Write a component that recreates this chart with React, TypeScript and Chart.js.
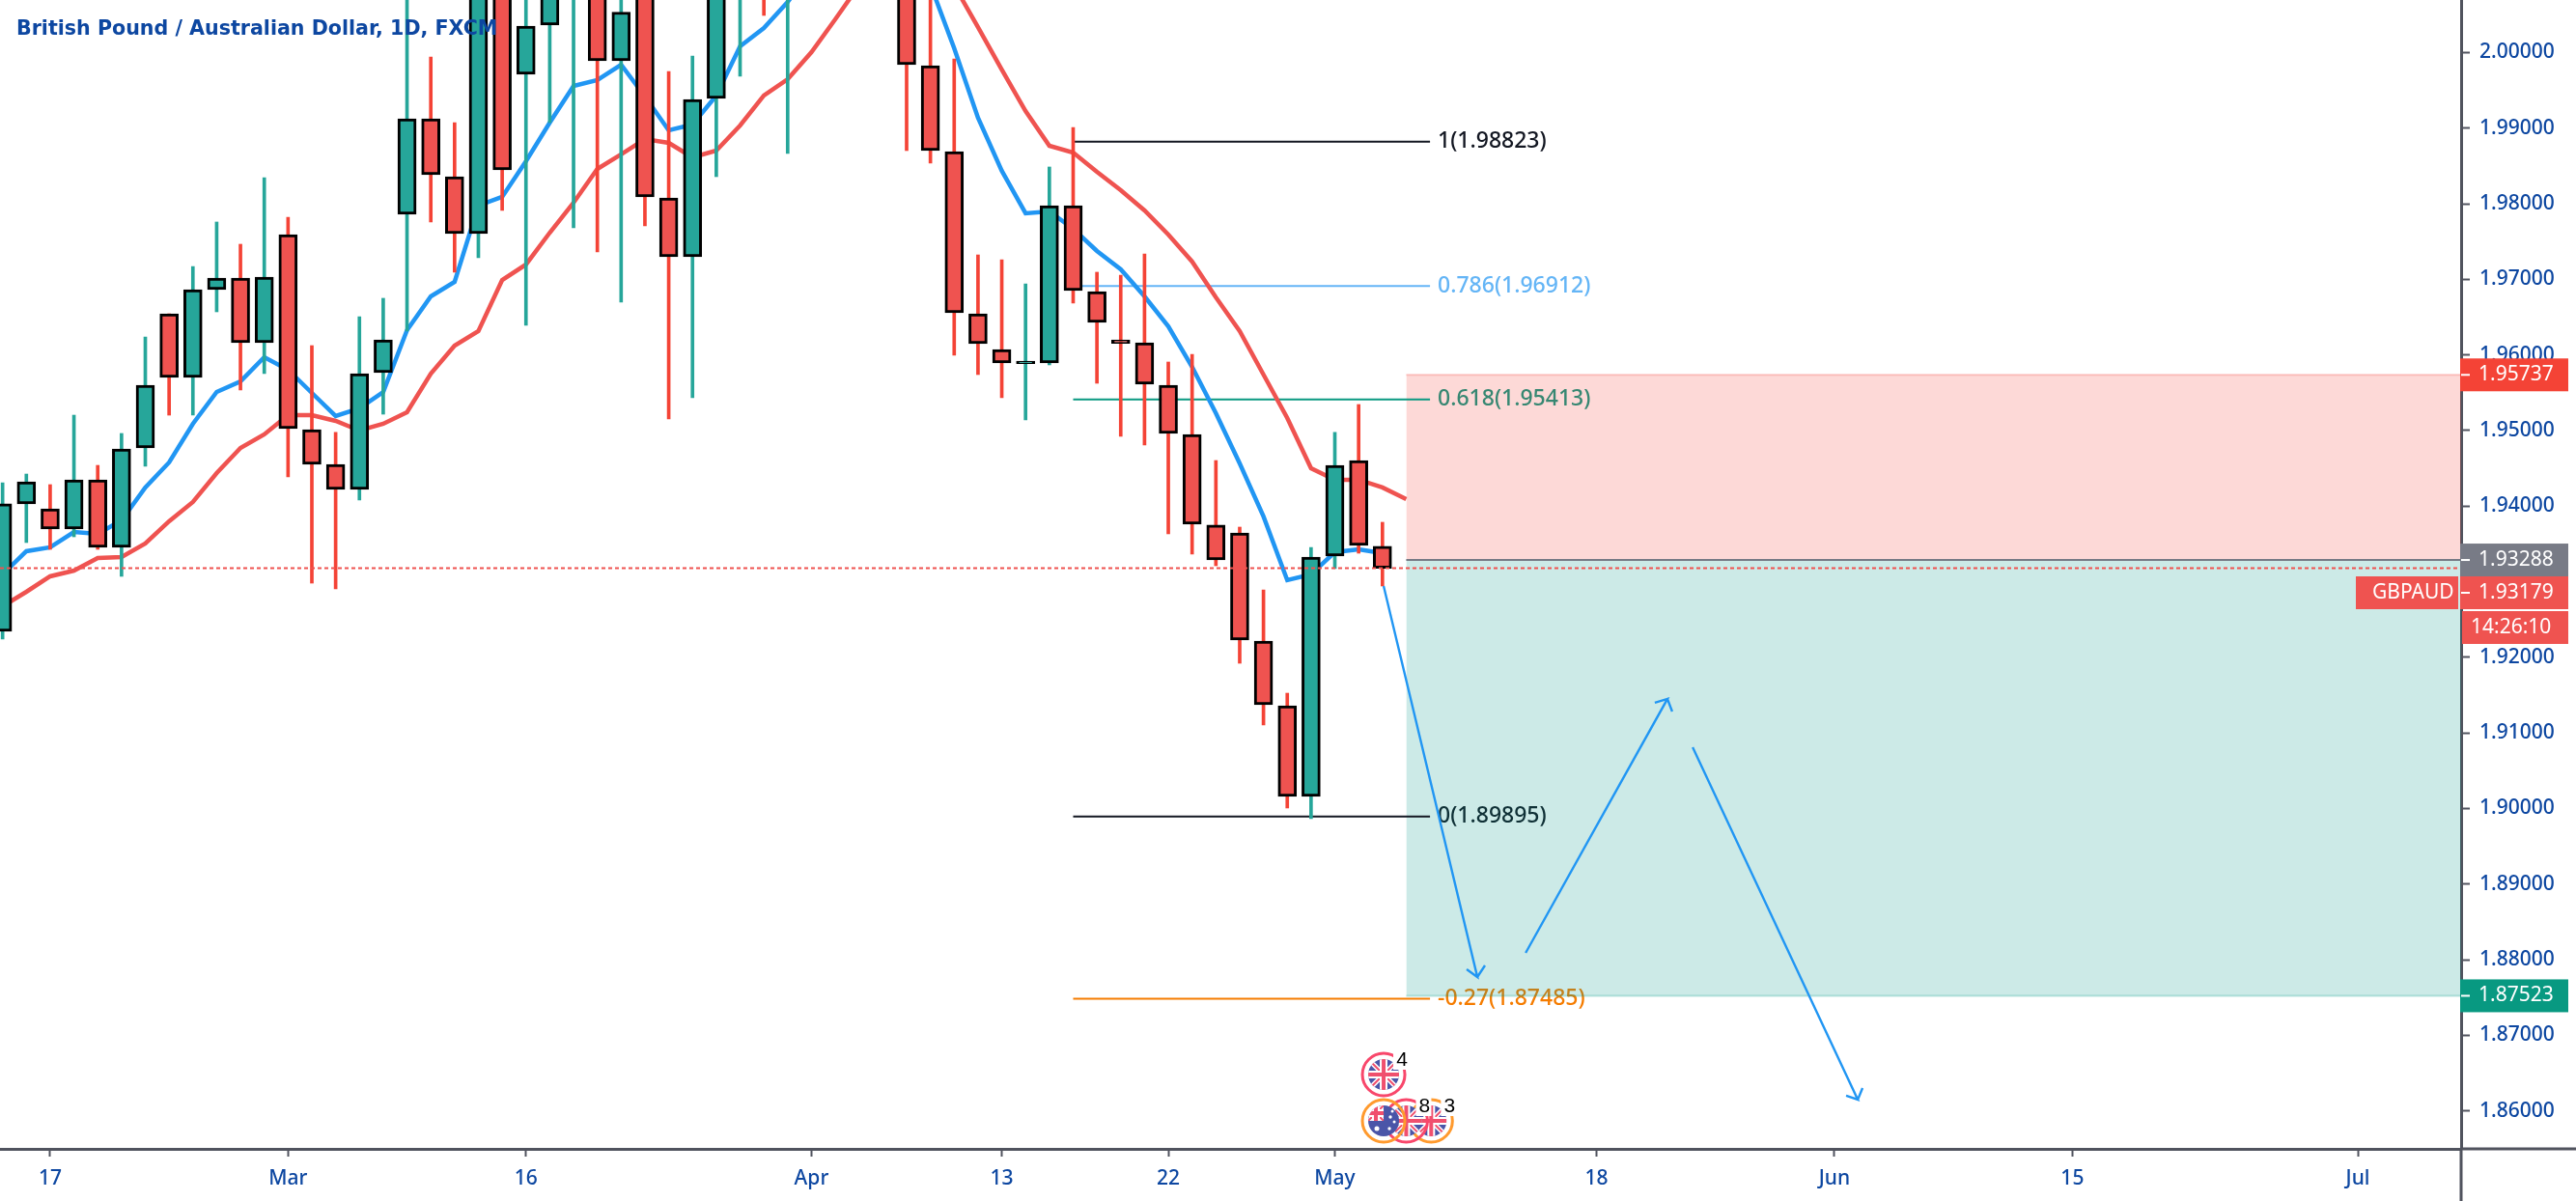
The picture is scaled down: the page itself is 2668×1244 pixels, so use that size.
import React, { useEffect, useRef } from "react";
import { Chart, registerables } from "chart.js";

Chart.register(...registerables);

const W = 2668;
const H = 1244;
const AXIS_FONT = '"Noto Sans", sans-serif';

const opens = [1.92344,1.9403,1.93966,1.93697,1.94349,1.93455,1.9477,1.96545,1.95703,1.96865,1.97018,1.96162,1.97593,1.95013,1.94553,1.94221,1.95766,1.97861,1.99125,1.98359,1.97605,2.012,1.99713,2.00364,2.0085,2.017,1.99891,2.013,1.98078,1.97299,1.99393,2.009,2.0185,2.011,2.0195,2.029,2.0215,2.015,2.0085,1.99828,1.98691,1.96545,1.96073,1.95885,1.95894,1.97976,1.96839,1.962,1.96162,1.956,1.94949,1.93749,1.93646,1.92216,1.9136,1.9016,1.9334,1.94604,1.93468];
const closes = [1.9403,1.94323,1.93697,1.94349,1.93455,1.94757,1.956,1.95703,1.96865,1.97018,1.96162,1.97031,1.95026,1.94553,1.94221,1.95754,1.96201,1.99125,1.98384,1.97605,2.011,1.98448,2.00351,2.01,2.0165,1.99891,2.00536,1.98091,1.97299,1.99381,2.012,2.013,2.0105,2.0195,2.029,2.0215,2.015,2.0085,1.9984,1.98704,1.96558,1.9615,1.95894,1.9592,1.97976,1.96852,1.96431,1.96155,1.95613,1.94962,1.93761,1.93289,1.92229,1.91373,1.9016,1.93327,1.9454,1.9348,1.93179];
const highs = [1.9431,1.94425,1.94285,1.95204,1.9454,1.94962,1.96239,1.96545,1.97171,1.97759,1.97465,1.98346,1.97823,1.96124,1.94975,1.96507,1.9675,2.0095,1.99943,1.99074,2.0135,2.015,2.011,2.0125,2.019,2.021,2.01,2.015,1.99751,1.99955,2.015,2.016,2.0205,2.0225,2.033,2.034,2.026,2.02,2.012,2.0085,1.99917,1.97324,1.97261,1.96941,1.98487,1.9901,1.97095,1.97056,1.97337,1.95907,1.96009,1.94604,1.93723,1.92893,1.91526,1.93455,1.94975,1.95345,1.93787];
const lows = [1.92242,1.93519,1.93429,1.93595,1.93429,1.93072,1.94528,1.95204,1.95204,1.96571,1.95537,1.95754,1.94387,1.92982,1.92906,1.94081,1.95217,1.96316,1.97759,1.97095,1.97286,1.97912,1.96392,1.99074,1.97682,1.97363,1.96699,1.97708,1.95153,1.95434,1.98359,1.99687,2.00492,1.98665,2.014,2.017,2.0105,2.008,1.98704,1.98538,1.95996,1.95741,1.95434,1.95141,1.95869,1.96686,1.95626,1.94924,1.94809,1.93634,1.93365,1.93212,1.91922,1.91105,1.90007,1.89866,1.93174,1.93378,1.92944];

const emaFast = [1.93097,1.93404,1.93455,1.93659,1.93634,1.93812,1.94247,1.94579,1.9509,1.95511,1.95651,1.95971,1.95805,1.95498,1.95192,1.95294,1.95511,1.96328,1.96775,1.96967,1.97976,1.98091,1.98563,1.99074,1.99559,1.99636,1.9984,1.99419,1.98972,1.99049,1.99432,2.00083,2.00326,2.0067,2.01079,2.01398,2.0159,2.0159,2.01398,2.009,2.00057,1.99138,1.98436,1.97874,1.97899,1.97669,1.97376,1.97133,1.96775,1.96379,1.95843,1.9523,1.94566,1.93864,1.93021,1.93097,1.93391,1.93429,1.93378];
const emaSlow = [1.92676,1.92867,1.93072,1.93148,1.93314,1.93327,1.93506,1.938,1.94055,1.94438,1.9477,1.94949,1.95204,1.95204,1.95128,1.95,1.9509,1.95243,1.95754,1.96124,1.96316,1.96992,1.97197,1.97618,1.98014,1.98461,1.98653,1.98857,1.98806,1.98614,1.98704,1.99036,1.99432,1.99649,2.00006,2.00441,2.00888,2.01271,2.01526,2.01335,2.00888,2.00338,1.99776,1.99227,1.98768,1.98678,1.98423,1.9818,1.97912,1.97593,1.97235,1.96763,1.96316,1.95741,1.95166,1.94502,1.94349,1.94349,1.94247,1.94093];

const xTickIndex = [2, 12, 22, 34, 42, 49, 56, 67, 77, 87, 99];
const xTickLabels = ["17", "Mar", "16", "Apr", "13", "22", "May", "18", "Jun", "15", "Jul"];
const yTickValues = [1.86,1.87,1.88,1.89,1.9,1.91,1.92,1.93,1.94,1.95,1.96,1.97,1.98,1.99,2.0];

const fibStart = 45;
const fibEnd = 60;
const fibLevels = [1.98823, 1.96912, 1.95413, 1.89895, 1.87485];
const fibLabels = ["1(1.98823)", "0.786(1.96912)", "0.618(1.95413)", "0(1.89895)", "-0.27(1.87485)"];
const fibLineColors = ["#131722", "#64b5f6", "#089981", "#131722", "#f57c00"];
const fibTextColors = ["#131722", "#64b5f6", "#089981", "#131722", "#f57c00"];

const zoneStart = 59;
const stopPrice = 1.95737;
const entryPrice = 1.93288;
const targetPrice = 1.87523;
const lastPrice = 1.93179;

const arrow1X = [58.05, 61.99, 61.54, 61.99, 62.31];
const arrow1Y = [1.92944, 1.87772, 1.87874, 1.87772, 1.87925];
const arrow2X = [64.02, 69.98, 69.45, 69.98, 70.18];
const arrow2Y = [1.88091, 1.9145, 1.91399, 1.9145, 1.91284];
const arrow3X = [71.04, 77.98, 77.49, 77.98, 78.18];
const arrow3Y = [1.90811, 1.8615, 1.86201, 1.8615, 1.86303];

const TITLE = "British Pound / Australian Dollar, 1D, FXCM";

const X_MIN = -0.108;
const X_MAX = 103.34;
const Y_MIN = 1.85498;
const Y_MAX = 2.00696;

const zip = (xs: number[], ys: number[]) => xs.map((x, i) => ({ x, y: ys[i] }));
const idx = (ys: number[]) => ys.map((y, i) => ({ x: i, y }));
const hline = (x0: number, x1: number, y: number) => [{ x: x0, y }, { x: x1, y }];

function jack(ctx: CanvasRenderingContext2D, cx: number, cy: number, r: number) {
  ctx.save();
  ctx.beginPath();
  ctx.arc(cx, cy, r, 0, Math.PI * 2);
  ctx.clip();
  ctx.fillStyle = "#4a55a8";
  ctx.fillRect(cx - r, cy - r, 2 * r, 2 * r);
  ctx.strokeStyle = "#ffffff";
  ctx.lineWidth = 5;
  ctx.beginPath();
  ctx.moveTo(cx - r, cy - r);
  ctx.lineTo(cx + r, cy + r);
  ctx.moveTo(cx + r, cy - r);
  ctx.lineTo(cx - r, cy + r);
  ctx.stroke();
  ctx.strokeStyle = "#f0506e";
  ctx.lineWidth = 2;
  ctx.stroke();
  ctx.strokeStyle = "#ffffff";
  ctx.lineWidth = 8;
  ctx.beginPath();
  ctx.moveTo(cx - r, cy);
  ctx.lineTo(cx + r, cy);
  ctx.moveTo(cx, cy - r);
  ctx.lineTo(cx, cy + r);
  ctx.stroke();
  ctx.strokeStyle = "#f0506e";
  ctx.lineWidth = 4;
  ctx.stroke();
  ctx.restore();
}

function aussie(ctx: CanvasRenderingContext2D, cx: number, cy: number, r: number) {
  ctx.save();
  ctx.beginPath();
  ctx.arc(cx, cy, r, 0, Math.PI * 2);
  ctx.clip();
  ctx.fillStyle = "#4a55a8";
  ctx.fillRect(cx - r, cy - r, 2 * r, 2 * r);
  ctx.beginPath();
  ctx.rect(cx - r, cy - r, r, r);
  ctx.clip();
  jack(ctx, cx - r / 2, cy - r / 2, r);
  ctx.restore();
  ctx.save();
  ctx.fillStyle = "#ffffff";
  for (const [dx, dy, s] of [[-7, 8, 2.5], [7, -4, 1.7], [11, 1, 1.5], [6, 8, 1.7], [9, -10, 1.5]]) {
    ctx.beginPath();
    ctx.arc(cx + dx, cy + dy, s, 0, Math.PI * 2);
    ctx.fill();
  }
  ctx.restore();
}

function ring(ctx: CanvasRenderingContext2D, cx: number, cy: number, color: string) {
  ctx.save();
  ctx.strokeStyle = color;
  ctx.lineWidth = 3;
  ctx.beginPath();
  ctx.arc(cx, cy, 22, 0, Math.PI * 2);
  ctx.stroke();
  ctx.restore();
}

function badge(ctx: CanvasRenderingContext2D, cx: number, cy: number, text: string) {
  ctx.save();
  ctx.fillStyle = "#ffffff";
  ctx.fillRect(cx - 8, cy - 11, 16, 22);
  ctx.fillStyle = "#000000";
  ctx.font = '21px "Liberation Sans", sans-serif';
  ctx.textAlign = "center";
  ctx.textBaseline = "middle";
  ctx.fillText(text, cx + 1, cy + 1);
  ctx.restore();
}

const fibTextPlugin = {
  id: "fibText",
  beforeDatasetsDraw(chart: any) {
    const { ctx, scales } = chart;
    ctx.save();
    ctx.font = `500 23px ${AXIS_FONT}`;
    ctx.textBaseline = "middle";
    ctx.textAlign = "left";
    fibLevels.forEach((lv, i) => {
      ctx.fillStyle = fibTextColors[i];
      ctx.fillText(fibLabels[i], 1489, scales.y.getPixelForValue(lv));
    });
    ctx.restore();
  },
};

const overlayPlugin = {
  id: "overlay",
  afterDatasetsDraw(chart: any) {
    const { ctx } = chart;
    ctx.save();
    ctx.font = 'bold 20.6px "DejaVu Sans", sans-serif';
    ctx.fillStyle = "#0d47a1";
    ctx.textBaseline = "middle";
    ctx.textAlign = "left";
    ctx.fillText(TITLE, 17, 31);
    ctx.restore();
  },
  afterDraw(chart: any) {
    const { ctx, scales } = chart;
    const y = (v: number) => scales.y.getPixelForValue(v);
    ctx.save();
    // axis lines continuing past the plot
    ctx.strokeStyle = "#50535e";
    ctx.lineWidth = 3;
    ctx.beginPath();
    ctx.moveTo(2549, 1190);
    ctx.lineTo(W, 1190);
    ctx.moveTo(2549, 1190);
    ctx.lineTo(2549, H);
    ctx.stroke();

    const box = (x0: number, x1: number, cy: number, color: string, text: string, tx: number, tick = true) => {
      ctx.fillStyle = color;
      ctx.fillRect(x0, cy - 17, x1 - x0, 34);
      ctx.fillStyle = "#ffffff";
      ctx.font = `21px ${AXIS_FONT}`;
      ctx.textAlign = "left";
      ctx.textBaseline = "middle";
      ctx.fillText(text, tx, cy);
      if (tick) ctx.fillRect(2549, cy - 1, 9, 2);
    };
    box(2548, 2660, y(stopPrice), "#f44336", stopPrice.toFixed(5), 2567);
    box(2548, 2660, y(entryPrice), "#787b86", entryPrice.toFixed(5), 2567);
    box(2440, 2546, 614, "#ef5350", "GBPAUD", 2457, false);
    box(2548, 2660, 614, "#ef5350", lastPrice.toFixed(5), 2567);
    box(2550, 2660, 650, "#ef5350", "14:26:10", 2559, false);
    box(2548, 2660, y(targetPrice), "#089981", targetPrice.toFixed(5), 2567);

    // economic-event markers
    const ex0 = scales.x.getPixelForValue(58.05);
    const ex1 = scales.x.getPixelForValue(59);
    const ex2 = scales.x.getPixelForValue(60.05);
    jack(ctx, ex0, 1113, 16);
    ring(ctx, ex0, 1113, "#f8476b");
    badge(ctx, ex0 + 18, 1097, "4");
    jack(ctx, ex2, 1161, 16);
    ring(ctx, ex2, 1161, "#ff9a2e");
    badge(ctx, ex2 + 18, 1145, "3");
    jack(ctx, ex1, 1161, 16);
    ring(ctx, ex1, 1161, "#f8476b");
    badge(ctx, ex1 + 18, 1145, "8");
    aussie(ctx, ex0, 1161, 16);
    ring(ctx, ex0, 1161, "#ff9a2e");
    ctx.restore();
  },
};

export default function App() {
  const ref = useRef<HTMLCanvasElement>(null);

  useEffect(() => {
    const up = closes.map((c, i) => c >= opens[i]);
    const chart = new Chart(ref.current as HTMLCanvasElement, {
      type: "bar",
      data: {
        datasets: [
          {
            type: "line",
            data: hline(zoneStart, X_MAX, stopPrice),
            borderColor: "rgba(244,67,54,0.25)",
            borderWidth: 2,
            backgroundColor: "rgba(244,67,54,0.2)",
            fill: { value: entryPrice },
            pointRadius: 0,
            order: 91,
          },
          {
            type: "line",
            data: hline(zoneStart, X_MAX, targetPrice),
            borderColor: "rgba(0,150,136,0.25)",
            borderWidth: 2,
            backgroundColor: "rgba(0,150,136,0.2)",
            fill: { value: entryPrice },
            pointRadius: 0,
            order: 90,
          },
          {
            type: "line",
            data: hline(zoneStart, X_MAX, entryPrice),
            borderColor: "#787b86",
            borderWidth: 2,
            pointRadius: 0,
            order: 89,
          },
          ...fibLevels.map((lv, i) => ({
            type: "line",
            data: hline(fibStart, fibEnd, lv),
            borderColor: fibLineColors[i],
            borderWidth: 2,
            pointRadius: 0,
            order: 60,
          })),
          {
            type: "line",
            data: idx(emaSlow),
            borderColor: "#ef5350",
            borderWidth: 4.5,
            pointRadius: 0,
            order: 51,
          },
          {
            type: "line",
            data: idx(emaFast),
            borderColor: "#2196f3",
            borderWidth: 4.5,
            pointRadius: 0,
            order: 50,
          },
          {
            type: "bar",
            data: lows.map((l, i) => ({ x: i, y: [l, highs[i]] })),
            backgroundColor: up.map((u) => (u ? "#26a69a" : "#f44336")),
            barThickness: 3,
            grouped: false,
            order: 40,
          },
          {
            type: "bar",
            data: opens.map((o, i) => ({ x: i, y: [o, closes[i]] })),
            backgroundColor: up.map((u) => (u ? "#26a69a" : "#ef5350")),
            borderColor: "#000000",
            borderWidth: 3,
            borderSkipped: false,
            barThickness: 19,
            grouped: false,
            order: 30,
          },
          ...[zip(arrow1X, arrow1Y), zip(arrow2X, arrow2Y), zip(arrow3X, arrow3Y)].map((pts) => ({
            type: "line",
            data: pts,
            borderColor: "#2196f3",
            borderWidth: 2.4,
            pointRadius: 0,
            order: 15,
          })),
          {
            type: "line",
            data: hline(X_MIN, X_MAX, lastPrice),
            borderColor: "#ef5350",
            borderWidth: 2,
            borderDash: [4, 3],
            pointRadius: 0,
            order: 10,
          },
        ] as any,
      },
      options: {
        animation: false,
        responsive: false,
        devicePixelRatio: 1,
        layout: { padding: 0 },
        plugins: { legend: { display: false }, tooltip: { enabled: false }, title: { display: false } },
        events: [],
        scales: {
          x: {
            type: "linear",
            min: X_MIN,
            max: X_MAX,
            offset: false,
            grid: {
              offset: false,
              drawOnChartArea: false,
              drawTicks: true,
              tickLength: 8,
              tickColor: "#50535e",
              tickWidth: 2,
            },
            border: { color: "#50535e", width: 3 },
            afterBuildTicks: (s: any) => {
              s.ticks = xTickIndex.map((value) => ({ value }));
            },
            afterFit: (s: any) => {
              s.height = H - 1190;
              s.paddingLeft = 0;
              s.paddingRight = 0;
            },
            ticks: {
              autoSkip: false,
              maxRotation: 0,
              padding: 10,
              color: "#0d47a1",
              font: { family: AXIS_FONT, size: 21, weight: "500" },
              callback: (v: any) => xTickLabels[xTickIndex.indexOf(Number(v))] ?? "",
            },
          },
          y: {
            type: "linear",
            position: "right",
            min: Y_MIN,
            max: Y_MAX,
            grid: {
              drawOnChartArea: false,
              drawTicks: true,
              tickLength: 9,
              tickColor: "#50535e",
              tickWidth: 2,
            },
            border: { color: "#50535e", width: 3 },
            afterBuildTicks: (s: any) => {
              s.ticks = yTickValues.map((value) => ({ value }));
            },
            afterFit: (s: any) => {
              s.width = W - 2549;
              s.paddingTop = 0;
              s.paddingBottom = 0;
            },
            ticks: {
              autoSkip: false,
              padding: 10,
              color: "#0d47a1",
              font: { family: AXIS_FONT, size: 21, weight: "500" },
              callback: (v: any) => Number(v).toFixed(5),
            },
          },
        },
      } as any,
      plugins: [fibTextPlugin, overlayPlugin],
    });
    return () => chart.destroy();
  }, []);

  return (
    <div style={{ position: "fixed", left: 0, top: 0, width: W, height: H, background: "#ffffff" }}>
      <canvas ref={ref} width={W} height={H} style={{ display: "block", width: W, height: H }} />
    </div>
  );
}
